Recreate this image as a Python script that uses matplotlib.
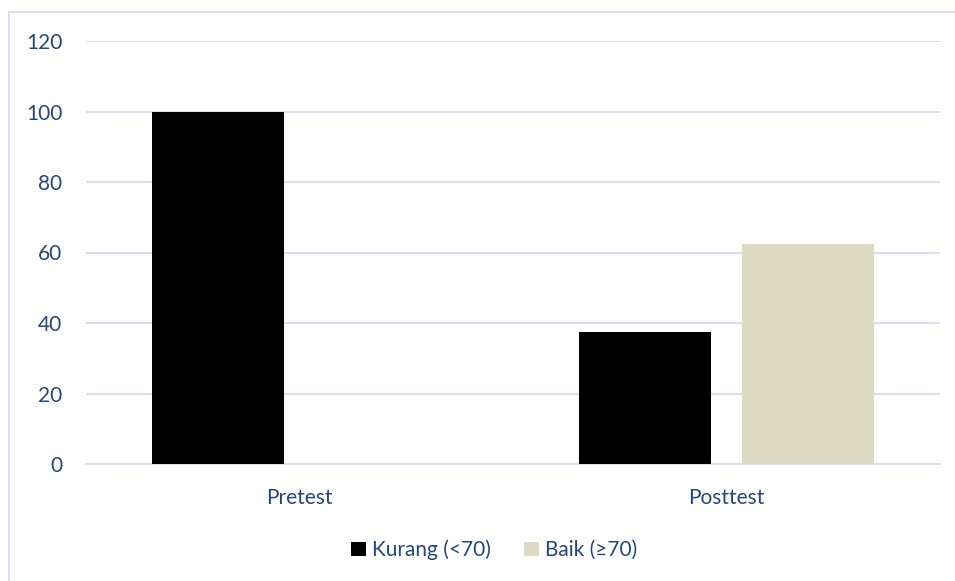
import matplotlib
matplotlib.use("Agg")
import numpy as np
import matplotlib.pyplot as plt
from matplotlib.patches import Rectangle

# data
categories = ["Pretest", "Posttest"]
series_names = ["Kurang (<70)", "Baik (\u226570)"]
kurang = [100, 37.5]
baik = [0, 62.5]
yticks = [0, 20, 40, 60, 80, 100, 120]

text_color = "#24487A"
grid_color = "#D6E0F1"
colors = ["#000000", "#DDD9C3"]

plt.rcParams['font.family'] = ['Lato', 'DejaVu Sans']

W, H = 955, 581
fig = plt.figure(figsize=(W / 100, H / 100), dpi=100)
fig.patch.set_facecolor("white")

# chart border (only top and left visible in reference)
fig.patches.append(Rectangle((9 / W, -0.1), 1.2, (H - 12) / H + 0.1,
                             transform=fig.transFigure, fill=False,
                             edgecolor=grid_color, linewidth=1.5))

ax = fig.add_axes([86 / W, (H - 464) / H, (940 - 86) / W, (464 - 41) / H])

x = np.arange(len(categories))
width = 0.309
offset = 0.19
ax.bar(x - offset, kurang, width, color=colors[0], label=series_names[0], zorder=3)
ax.bar(x + offset, baik, width, color=colors[1], label=series_names[1], zorder=3)

ax.set_xlim(-0.5, 1.5)
ax.set_ylim(0, 120)
ax.set_yticks(yticks)
ax.set_xticks(x)
ax.set_xticklabels(categories)
ax.yaxis.grid(True, color=grid_color, linewidth=1.5, zorder=0)
ax.set_axisbelow(True)
for s in ["top", "right", "left"]:
    ax.spines[s].set_visible(False)
ax.spines["bottom"].set_color(grid_color)
ax.spines["bottom"].set_linewidth(1.5)
ax.tick_params(axis="both", length=0, labelsize=15, colors=text_color)
ax.tick_params(axis="y", pad=17)
ax.tick_params(axis="x", pad=17)

leg = fig.legend(loc="center", bbox_to_anchor=(494 / W, (H - 550) / H), ncol=2,
                 frameon=False, fontsize=15, handlelength=0.7, handleheight=0.7,
                 handletextpad=0.3, columnspacing=1.6)
for t in leg.get_texts():
    t.set_color(text_color)

fig.savefig("out.png", dpi=100)
